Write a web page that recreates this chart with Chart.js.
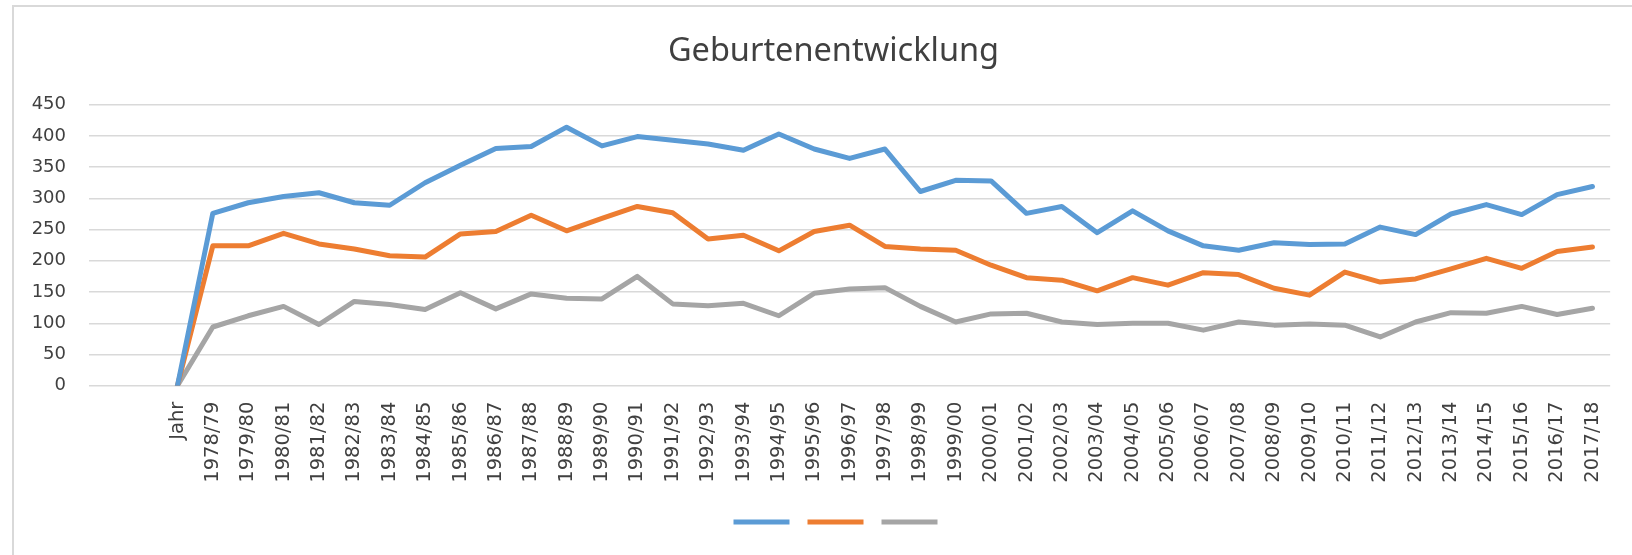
<!DOCTYPE html>
<html>
<head>
<meta charset="utf-8">
<script src="https://cdn.jsdelivr.net/npm/chart.js@4/dist/chart.umd.min.js"></script>
<style>
  html, body { margin: 0; padding: 0; background: #fff; overflow: hidden; }
  #wrap { position: relative; width: 1632px; height: 555px; }
  #frame { position: absolute; left: 12px; top: 5px; width: 1700px; height: 700px; border: 2px solid #D9D9D9; pointer-events: none; }
  canvas { position: absolute; left: 0; top: 0; }
</style>
</head>
<body>
<div id="wrap">
  <div id="frame"></div>
  <canvas id="chart" width="1632" height="555"></canvas>
</div>
<script>
// two blank columns come before "Jahr" in the source sheet
const categories = ["", "", "Jahr",
  "1978/79", "1979/80", "1980/81", "1981/82", "1982/83", "1983/84", "1984/85", "1985/86",
  "1986/87", "1987/88", "1988/89", "1989/90", "1990/91", "1991/92", "1992/93", "1993/94",
  "1994/95", "1995/96", "1996/97", "1997/98", "1998/99", "1999/00", "2000/01", "2001/02",
  "2002/03", "2003/04", "2004/05", "2005/06", "2006/07", "2007/08", "2008/09", "2009/10",
  "2010/11", "2011/12", "2012/13", "2013/14", "2014/15", "2015/16", "2016/17", "2017/18"];

const reihe1 = [null, null, 0,
  276, 293, 303, 309, 293, 289, 325, 353, 380, 383, 414, 384, 399, 393, 387, 377,
  403, 379, 364, 379, 311, 329, 328, 276, 287, 245, 280, 248, 224, 217, 229, 226,
  227, 254, 242, 275, 290, 274, 306, 319];

const reihe2 = [null, null, 0,
  224, 224, 244, 227, 219, 208, 206, 243, 247, 273, 248, 268, 287, 277, 235, 241,
  216, 247, 257, 223, 219, 217, 193, 173, 169, 152, 173, 161, 181, 178, 156, 145,
  182, 166, 171, 187, 204, 188, 215, 222];

const reihe3 = [null, null, 0,
  94, 112, 127, 98, 135, 130, 122, 149, 123, 147, 140, 139, 175, 131, 128, 132,
  112, 148, 155, 157, 127, 102, 115, 116, 102, 98, 100, 100, 89, 102, 97, 99,
  97, 78, 102, 117, 116, 127, 114, 124];

const yTicks = [0, 50, 100, 150, 200, 250, 300, 350, 400, 450];

const textColor = "#404040";

function line(data, color) {
  return {
    label: "",
    data: data,
    borderColor: color,
    backgroundColor: color,
    borderWidth: 5,
    borderCapStyle: "round",
    borderJoinStyle: "round",
    pointRadius: 0,
    tension: 0,
    fill: false,
  };
}

// the original chart object is wider than the visible crop, so title and
// legend sit a little right of the canvas centre
const shiftBoxes = {
  id: "shiftBoxes",
  afterLayout: function (chart) {
    chart.titleBlock.left += 23;
    chart.titleBlock.right += 23;
    chart.legend.left += 28;
    chart.legend.right += 28;
  },
};

new Chart(document.getElementById("chart").getContext("2d"), {
  type: "line",
  data: {
    labels: categories,
    datasets: [
      line(reihe1, "#5B9BD5"),
      line(reihe2, "#ED7D31"),
      line(reihe3, "#A5A5A5"),
    ],
  },
  plugins: [shiftBoxes],
  options: {
    responsive: false,
    animation: false,
    layout: { padding: { left: 0, right: 11, top: 0, bottom: 17 } },
    plugins: {
      title: {
        display: true,
        text: "Geburtenentwicklung",
        color: textColor,
        font: { family: "'Noto Sans'", size: 32.5, weight: "normal", lineHeight: 1.2 },
        padding: { top: 32, bottom: 33.7 },
      },
      legend: {
        position: "bottom",
        labels: {
          usePointStyle: true,
          pointStyle: "line",
          pointStyleWidth: 56,
          font: { size: 12 },
          padding: 12,
        },
      },
      tooltip: { enabled: false },
    },
    scales: {
      x: {
        offset: true,
        grid: { display: false, drawTicks: false },
        border: { display: false },
        ticks: {
          autoSkip: false,
          minRotation: 90,
          maxRotation: 90,
          padding: 16,
          color: textColor,
          font: { family: "'DejaVu Sans'", size: 19.5 },
        },
        afterFit: function (scale) { scale.height = 118.3; },
      },
      y: {
        min: 0,
        max: 450,
        afterBuildTicks: function (scale) { scale.ticks = yTicks.map(v => ({ value: v })); },
        grid: { color: "#D9D9D9", lineWidth: 1.5, drawTicks: false },
        border: { display: false },
        ticks: {
          padding: 23,
          color: textColor,
          font: { family: "'DejaVu Sans'", size: 18 },
        },
        afterFit: function (scale) { scale.width = 89; },
      },
    },
  },
});
</script>
</body>
</html>
